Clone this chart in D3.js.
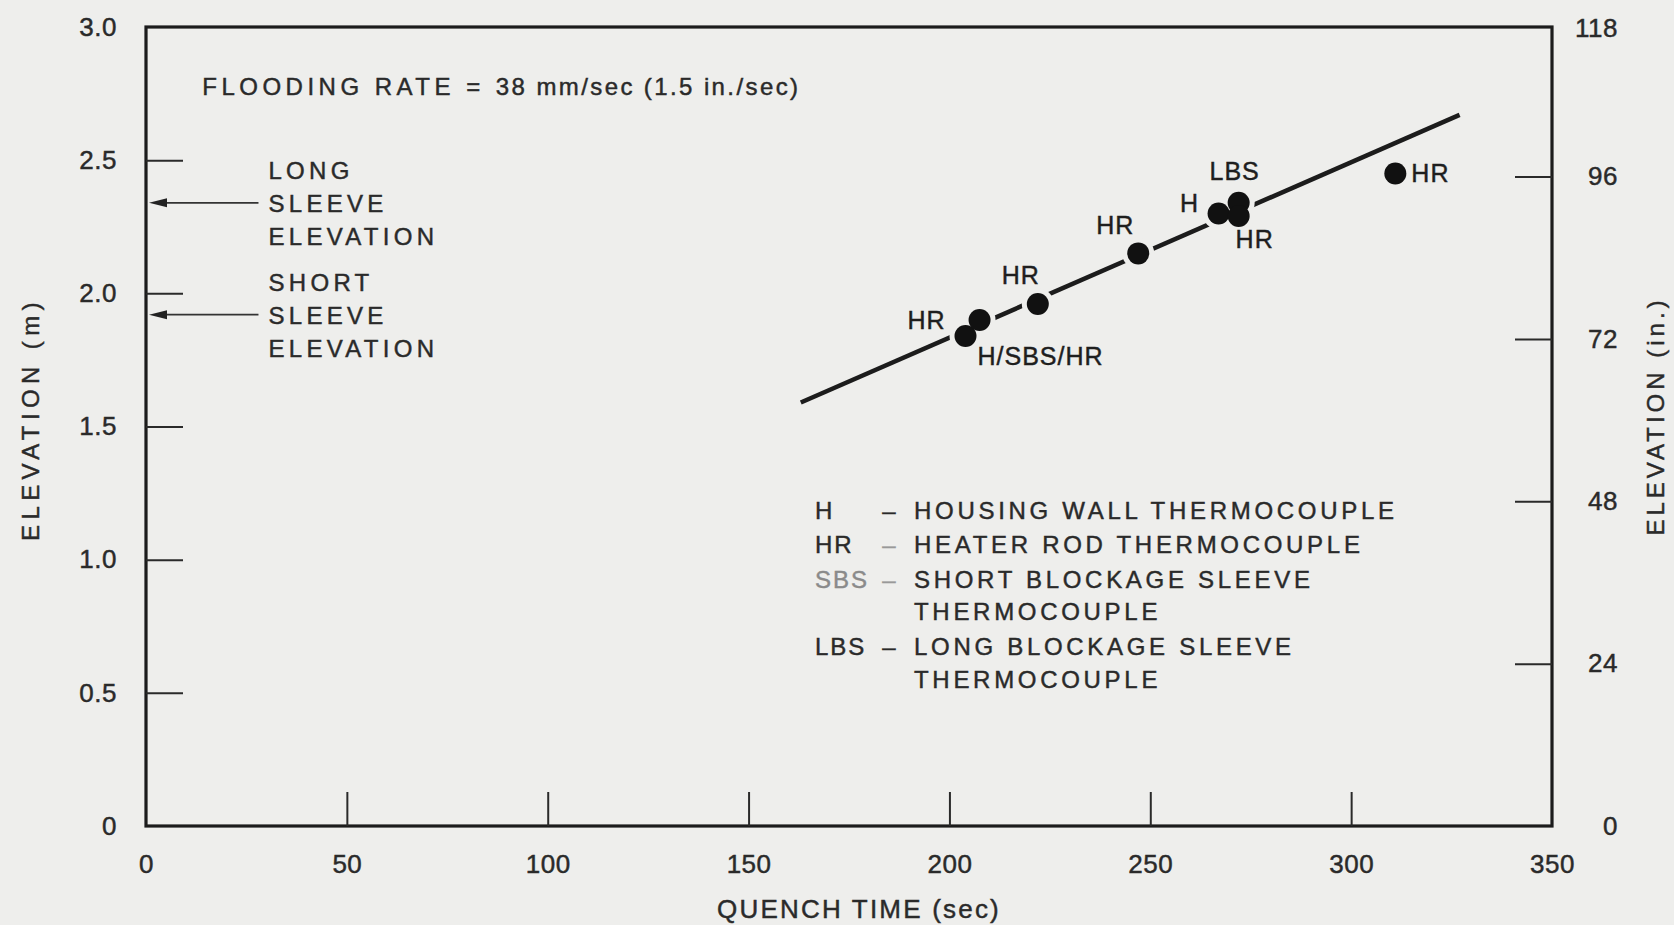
<!DOCTYPE html>
<html><head><meta charset="utf-8">
<script src="https://cdn.jsdelivr.net/npm/d3@7"></script>
<style>
html,body{margin:0;padding:0;background:#eeeeec;}
svg{display:block;}
</style></head><body>
<svg id="chart" width="1674" height="925"></svg>
<script>
// ---------- data ----------
const quenchTime   = [204, 207.5, 222, 247, 267, 272, 272, 311];
const elevationM   = [1.84, 1.90, 1.96, 2.15, 2.30, 2.34, 2.29, 2.45];
const pointLabels  = ["H/SBS/HR", "HR", "HR", "HR", "H", "LBS", "HR", "HR"];
const fitTime      = [163, 327];
const fitElevation = [1.59, 2.67];
const xTicks   = [0, 50, 100, 150, 200, 250, 300, 350];
const yTicksM  = [0, 0.5, 1.0, 1.5, 2.0, 2.5, 3.0];
const yTicksIn = [0, 24, 48, 72, 96, 118];
const sleeveNames = [["LONG", "SLEEVE", "ELEVATION"], ["SHORT", "SLEEVE", "ELEVATION"]];
const sleeveElevation = [2.34, 1.92];
const legendKeys = ["H", "HR", "SBS", "", "LBS", ""];
const legendText = ["HOUSING WALL THERMOCOUPLE", "HEATER ROD THERMOCOUPLE", "SHORT BLOCKAGE SLEEVE",
                    "THERMOCOUPLE", "LONG BLOCKAGE SLEEVE", "THERMOCOUPLE"];
const floodingNote = ["FLOODING RATE = ", "38 mm/sec  (1.5 in./sec)"];

// ---------- layout / style ----------
const BG = "#eeeeec", INK = "#1c1c1c", TXT = "#2a2a2a";
const FONT = "'Liberation Sans', Arial, Helvetica, sans-serif";
const labelLayout = [
  {dx: 12, dy: 20, a: "start"}, {dx: -34, dy: 0, a: "end"}, {dx: -17, dy: -29, a: "middle"},
  {dx: -23, dy: -28, a: "middle"}, {dx: -29, dy: -10, a: "middle"}, {dx: -4, dy: -32, a: "middle"},
  {dx: 16, dy: 23, a: "middle"}, {dx: 16, dy: 0, a: "start"}
];

const svg = d3.select("#chart");
svg.append("rect").attr("width", 1674).attr("height", 925).attr("fill", BG);

const x = d3.scaleLinear().domain([0, 350]).range([146, 1552]);
const y = d3.scaleLinear().domain([0, 3]).range([826, 27]);
const yIn = d3.scaleLinear().domain([0, 3 / 0.0254]).range([826, 27]);

function txt(sel, size, ls) {
  return sel.style("font-family", FONT).style("font-size", size + "px")
    .style("letter-spacing", (ls || 0) + "px")
    .attr("stroke-width", 0.45).attr("paint-order", "stroke");
}

// frame
svg.append("rect")
  .attr("x", x(0)).attr("y", y(3)).attr("width", x(350) - x(0)).attr("height", y(0) - y(3))
  .attr("fill", "none").attr("stroke", INK).attr("stroke-width", 3.2);

function styleAxis(g, hideVals) {
  g.select(".domain").remove();
  g.selectAll(".tick line").attr("stroke", "#2a2a2a").attr("stroke-width", 2)
    .filter(d => hideVals.includes(d)).remove();
  g.selectAll(".tick text").attr("fill", TXT).call(s => txt(s, 26, 0.5)).attr("stroke", TXT);
}

// left axis (m)
svg.append("g").attr("transform", `translate(${x(0)},0)`)
  .call(d3.axisLeft(y).tickValues(yTicksM).tickSize(-37).tickPadding(29)
        .tickFormat(d => d === 0 ? "0" : d3.format(".1f")(d)))
  .call(g => styleAxis(g, [0, 3]));

// bottom axis (sec)
svg.append("g").attr("transform", `translate(0,${y(0)})`)
  .call(d3.axisBottom(x).tickValues(xTicks).tickSize(-34).tickPadding(29))
  .call(g => styleAxis(g, [0, 350]));

// right axis (in.)
svg.append("g").attr("transform", `translate(${x(350)},0)`)
  .call(d3.axisRight(yIn).tickValues(yTicksIn).tickSize(-37).tickPadding(20))
  .call(g => styleAxis(g, [0, 118]))
  .call(g => g.selectAll(".tick text").attr("text-anchor", "end").attr("x", 66));

// axis titles
txt(svg.append("text").attr("x", 859).attr("y", 918).attr("text-anchor", "middle"), 26, 2.2)
  .attr("fill", TXT).attr("stroke", TXT).text("QUENCH TIME (sec)");
txt(svg.append("text").attr("transform", "translate(39,419) rotate(-90)").attr("text-anchor", "middle"), 24, 5.4)
  .attr("fill", TXT).attr("stroke", TXT).text("ELEVATION (m)");
txt(svg.append("text").attr("transform", "translate(1664,416) rotate(-90)").attr("text-anchor", "middle"), 24, 4)
  .attr("fill", TXT).attr("stroke", TXT).text("ELEVATION (in.)");

// flooding note
const fn = txt(svg.append("text").attr("x", x(14)).attr("y", y(3) + 68), 24, 0)
  .attr("fill", TXT).attr("stroke", TXT);
fn.append("tspan").style("letter-spacing", "4.5px").text(floodingNote[0]);
fn.append("tspan").style("letter-spacing", "2.4px").text(floodingNote[1]);

// sleeve arrows and labels
sleeveElevation.forEach((e, i) => {
  const yy = y(e), x0 = x(0) + 3, x1 = x(28);
  svg.append("line").attr("x1", x0 + 14).attr("x2", x1).attr("y1", yy).attr("y2", yy)
    .attr("stroke", "#333").attr("stroke-width", 1.8);
  svg.append("path")
    .attr("d", `M${x0},${yy} L${x0 + 18},${yy - 4.5} L${x0 + 18},${yy + 4.5} Z`)
    .attr("fill", "#222");
  sleeveNames[i].forEach((t, k) => {
    txt(svg.append("text").attr("x", x1 + 10).attr("y", yy + (k - 1) * 33 + 9), 24, 4.3)
      .attr("fill", TXT).attr("stroke", TXT).text(t);
  });
});

// fit line
const fitPts = fitTime.map((t, i) => [t, fitElevation[i]]);
svg.append("path").datum(fitPts)
  .attr("d", d3.line().x(d => x(d[0])).y(d => y(d[1])))
  .attr("fill", "none").attr("stroke", INK).attr("stroke-width", 4.5);

// halos (break the line around points) and points
const pts = quenchTime.map((t, i) => ({t, e: elevationM[i], lab: pointLabels[i], L: labelLayout[i]}));
svg.append("g").selectAll("circle").data(pts).join("circle")
  .attr("cx", d => x(d.t)).attr("cy", d => y(d.e)).attr("r", 16).attr("fill", BG);
svg.append("g").selectAll("circle").data(pts).join("circle")
  .attr("cx", d => x(d.t)).attr("cy", d => y(d.e)).attr("r", 11).attr("fill", "#111");
svg.append("g").selectAll("text").data(pts).join("text")
  .attr("x", d => x(d.t) + d.L.dx).attr("y", d => y(d.e) + d.L.dy + 9)
  .attr("text-anchor", d => d.L.a)
  .call(s => txt(s, 25, 1)).attr("fill", "#1e1e1e").attr("stroke", "#1e1e1e")
  .text(d => d.lab);

// legend
const legX = 815, legDash = 889, legText = 914;
const legRowY = [519, 553, 588, 620, 655, 688];
legendText.forEach((t, i) => {
  const faded = legendKeys[i] === "SBS";
  if (legendKeys[i]) {
    const c = faded ? "#8a8a8a" : TXT;
    txt(svg.append("text").attr("x", legX).attr("y", legRowY[i]), 24, 2)
      .attr("fill", c).attr("stroke", c).text(legendKeys[i]);
    const dc = faded || legendKeys[i] === "HR" ? "#999" : TXT;
    txt(svg.append("text").attr("x", legDash).attr("y", legRowY[i]).attr("text-anchor", "middle"), 24, 0)
      .attr("fill", dc).attr("stroke", dc).text("–");
  }
  txt(svg.append("text").attr("x", legText).attr("y", legRowY[i]), 24, 3.7)
    .attr("fill", TXT).attr("stroke", TXT).text(t);
});
</script>
</body></html>
